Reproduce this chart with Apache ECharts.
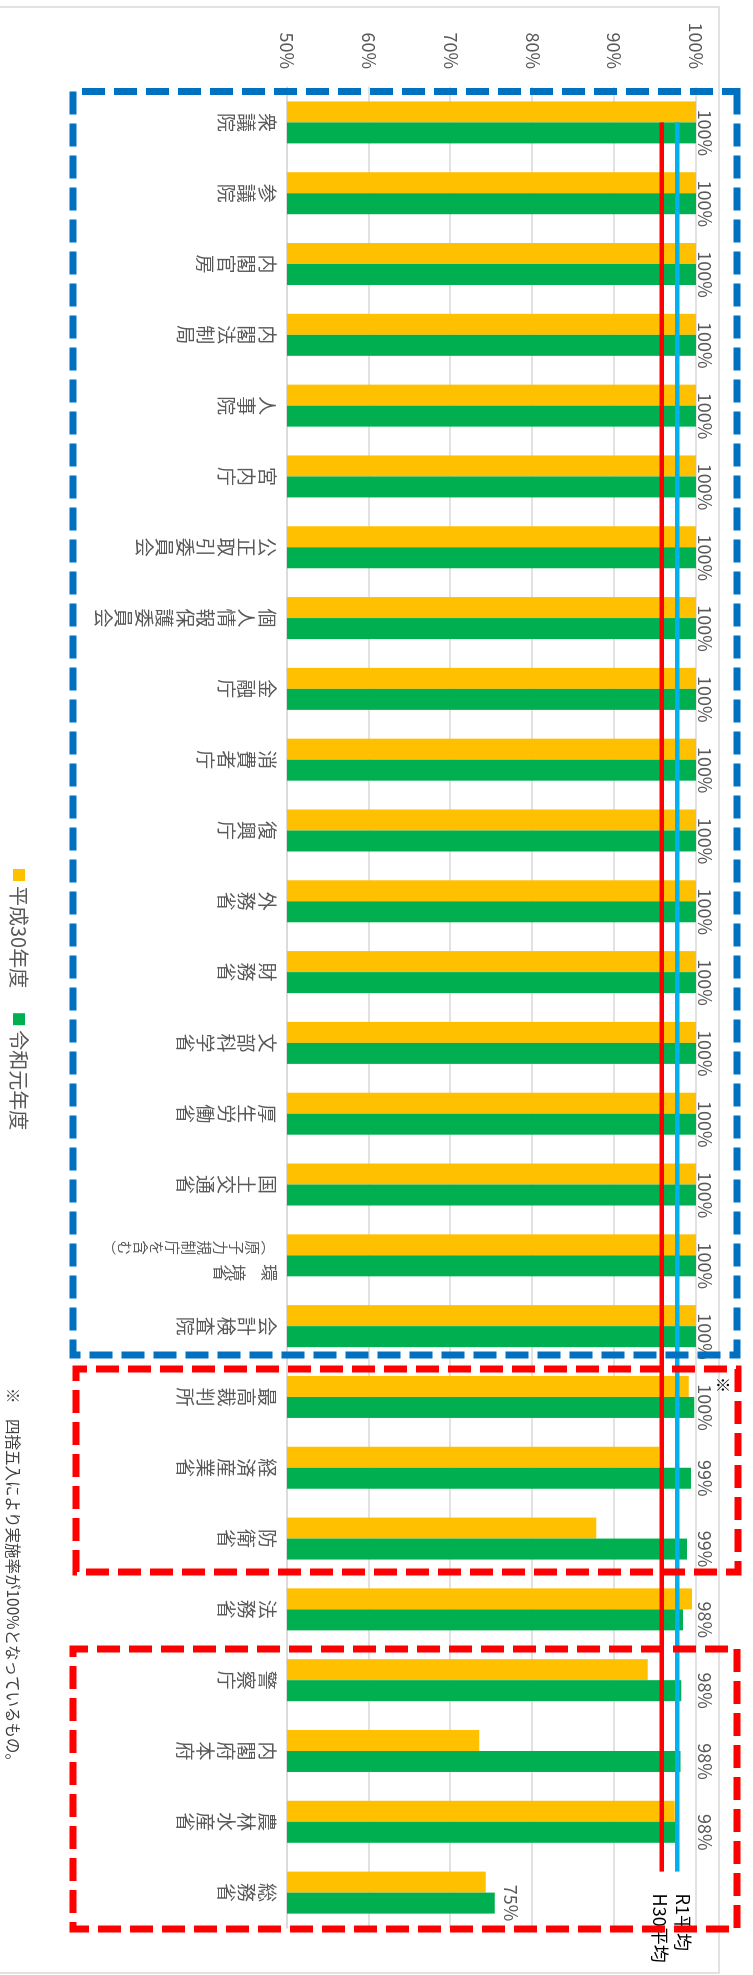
<!DOCTYPE html>
<html><head><meta charset="utf-8">
<script src="https://cdn.jsdelivr.net/npm/echarts@6/dist/echarts.min.js"></script>
<style>
html,body{margin:0;padding:0;width:753px;height:1975px;overflow:hidden;background:#fff;}
#chart{position:absolute;left:0;top:0;width:1975px;height:753px;transform-origin:0 0;transform:translateX(753px) rotate(90deg);}
</style></head><body><div id="chart"></div>
<script>
// ---- data ----
const categories = ['衆議院','参議院','内閣官房','内閣法制局','人事院','宮内庁','公正取引委員会','個人情報保護委員会','金融庁','消費者庁','復興庁','外務省','財務省','文部科学省','厚生労働省','国土交通省','環境省\n（原子力規制庁を含む）','会計検査院','最高裁判所','経済産業省','防衛省','法務省','警察庁','内閣府本府','農林水産省','総務省'];
const h30Values = [100,100,100,100,100,100,100,100,100,100,100,100,100,100,100,100,100,100,99.1,95.5,87.8,99.5,94.1,73.5,97.4,74.3];
const r1Values  = [100,100,100,100,100,100,100,100,100,100,100,100,100,100,100,100,100,100,99.8,99.4,98.9,98.4,98.2,98.1,97.5,75.4];
const seriesNames = ['平成30年度','令和元年度'];
const avgH30 = 95.8;
const avgR1 = 97.7;
const avgNames = ['H30平均','R1平均'];
const valueMin = 50, valueMax = 100, valueStep = 10;
const footnote = '※　四捨五入により実施率が100%となっているもの。';
const noteMark = '※';

// ---- layout / style ----
const FONT = '"Noto Sans CJK JP", "Noto Sans", sans-serif';
const W = 1975, H = 753;
const GRID = {left: 87, right: 47, top: 57, bottom: 287};
const BAR_W = 21;
const n = categories.length;
const pxPerPct = (H - GRID.top - GRID.bottom) / (valueMax - valueMin);
const bandPx = (W - GRID.left - GRID.right) / n;

function toVertical(s){ return s.replace(/（/g,'︵').replace(/）/g,'︶'); }
function catLabel(name){
  const cols = name.split('\n');
  if (cols.length === 1) return toVertical(cols[0]).split('').join('\n');
  const main = cols[0].split('');
  const sub = toVertical(cols[1]).split('');
  const rows = sub.map(() => '　');
  main.forEach((ch, i) => { rows[Math.round(i * 1.6)] = ch; });
  return sub.map((c, r) => '{p| }{c|' + c + '}{g| }{d|' + rows[r] + '}').join('\n');
}
function labelDist(v){ return v >= 95 ? (100 - v) * pxPerPct : 7; }

// average lines run from the first category's centre to the top of the last category's first bar
const lineStart = 0.5;
const lineEnd = n - 0.5 - BAR_W / bandPx;

const chart = echarts.init(document.getElementById('chart'), null, {width: W, height: H});
function avgSeries(name, value, color, offsetY){
  return {
    name: name, type: 'line', symbol: 'none', z: 5, xAxisIndex: 1,
    data: [[lineStart, value], [lineEnd, value]],
    lineStyle: {color: color, width: 4.5},
    endLabel: {show: true, formatter: name, distance: 22, offset: [0, offsetY],
               color: '#000', fontSize: 18, fontFamily: FONT}
  };
}
chart.setOption({
  animation: false,
  backgroundColor: '#ffffff',
  textStyle: {fontFamily: FONT},
  grid: {left: GRID.left, right: GRID.right, top: GRID.top, bottom: GRID.bottom, containLabel: false},
  legend: {
    data: seriesNames, left: 864, top: 719, icon: 'rect', itemWidth: 12, itemHeight: 12, itemGap: 25,
    textStyle: {color: '#595959', fontSize: 20, fontFamily: FONT}
  },
  xAxis: [{
    type: 'category', data: categories,
    axisTick: {show: false},
    axisLine: {show: true, lineStyle: {color: '#d9d9d9', width: 1.5}},
    axisLabel: {
      interval: 0, margin: 10, color: '#595959', fontSize: 19, lineHeight: 20.5, fontFamily: FONT,
      formatter: catLabel,
      rich: {
        p: {width: 10, fontSize: 14, lineHeight: 16},
        c: {width: 16, align: 'center', fontSize: 14.5, lineHeight: 16, color: '#595959', fontFamily: FONT},
        g: {width: 9, fontSize: 14, lineHeight: 16},
        d: {width: 16, align: 'center', fontSize: 17, lineHeight: 16, color: '#595959', fontFamily: FONT}
      }
    }
  }, {
    type: 'value', min: 0, max: n, show: false
  }],
  yAxis: {
    type: 'value', min: valueMin, max: valueMax, interval: valueStep,
    axisLine: {show: false}, axisTick: {show: false},
    splitLine: {lineStyle: {color: '#d9d9d9', width: 1.5}},
    axisLabel: {formatter: '{value}%', color: '#595959', fontSize: 18, margin: 18, fontFamily: FONT}
  },
  series: [
    {name: seriesNames[0], type: 'bar', data: h30Values, barWidth: BAR_W, barGap: '0%',
     itemStyle: {color: '#FFC000'}},
    {name: seriesNames[1], type: 'bar', barWidth: BAR_W, barGap: '0%',
     data: r1Values.map(v => ({value: v, label: {distance: labelDist(v)}})),
     itemStyle: {color: '#00B050'},
     label: {show: true, position: 'top', color: '#595959', fontSize: 18, fontFamily: FONT,
             formatter: p => Math.round(p.value) + '%'}},
    avgSeries(avgNames[0], avgH30, '#FF0000', 2),
    avgSeries(avgNames[1], avgR1, '#00B0F0', -6)
  ],
  graphic: [
    {type: 'rect', z: -10, shape: {x: 7, y: 34, width: 1966, height: 720},
     style: {fill: 'none', stroke: '#d9d9d9', lineWidth: 1.5}},
    {type: 'rect', z: 100, shape: {x: 91.5, y: 16, width: 1263.5, height: 664},
     style: {fill: 'none', stroke: '#0070C0', lineWidth: 7, lineDash: [23, 9]}},
    {type: 'rect', z: 100, shape: {x: 1369, y: 15, width: 203, height: 662},
     style: {fill: 'none', stroke: '#FF0000', lineWidth: 7, lineDash: [23, 9]}},
    {type: 'rect', z: 100, shape: {x: 1649, y: 16, width: 280, height: 664},
     style: {fill: 'none', stroke: '#FF0000', lineWidth: 7, lineDash: [23, 9]}},
    {type: 'text', z: 100, x: 1385, y: 30,
     style: {text: noteMark, fontSize: 16, fontWeight: 'bold', fill: '#000', align: 'center', verticalAlign: 'middle', fontFamily: FONT}},
    {type: 'text', z: 100, x: 1388, y: 740,
     style: {text: footnote, fontSize: 15.5, fill: '#404040', verticalAlign: 'middle', fontFamily: FONT}}
  ]
});
</script></body></html>
